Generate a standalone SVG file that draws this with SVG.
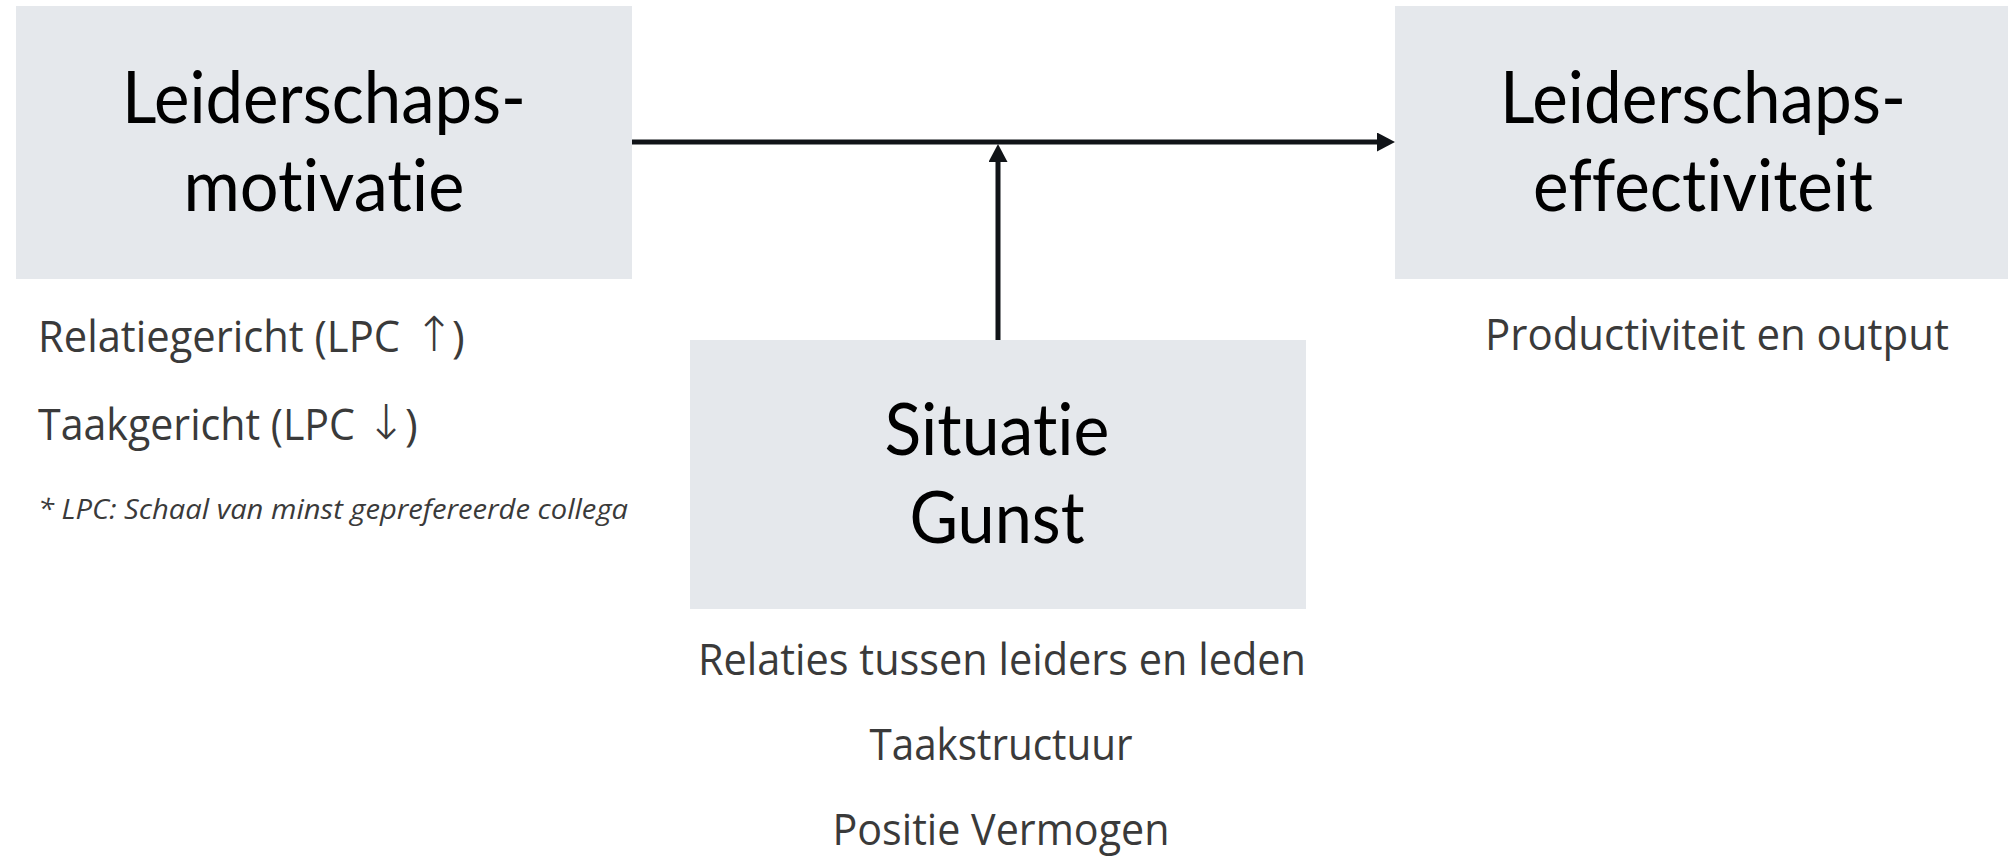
<svg xmlns="http://www.w3.org/2000/svg" width="2008" height="858" viewBox="0 0 2008 858">
  <style>
    text { font-variant-ligatures: none; }
    .box { fill: #e5e8ec; }
    .title { font-family: Lato, "Liberation Sans", sans-serif; font-size: 72px; fill: #000000; text-anchor: middle; }
    .note { font-family: "Open Sans", "DejaVu Sans", sans-serif; font-size: 43px; fill: #3a3a3a; }
    .mid { text-anchor: middle; }
    .arrow { font-family: "DejaVu Sans", sans-serif; font-size: 48px; font-weight: 200; fill: #3a3a3a; text-anchor: middle; }
    .foot { font-family: "Open Sans", "DejaVu Sans", sans-serif; font-style: italic; font-size: 28px; fill: #3a3a3a; }
    .link { stroke: #111418; stroke-width: 5; fill: none; }
  </style>
  <defs>
    <marker id="head" markerUnits="userSpaceOnUse" viewBox="0 0 18 19" refX="0" refY="9.5" markerWidth="18" markerHeight="19" orient="auto">
      <path d="M0,0 L18,9.5 L0,19 Z" fill="#111418"/>
    </marker>
  </defs>

  <rect width="2008" height="858" fill="#ffffff"/>

  <!-- connectors -->
  <g id="connectors">
    <line class="link" x1="632" y1="142" x2="1377" y2="142" marker-end="url(#head)"/>
    <line class="link" x1="998" y1="340" x2="998" y2="162" marker-end="url(#head)"/>
  </g>

  <!-- motivation node -->
  <g id="node-motivatie">
    <rect class="box" x="16" y="6" width="616" height="273"/>
    <text class="title" x="324" y="123" textLength="404" lengthAdjust="spacingAndGlyphs">Leiderschaps-</text>
    <text class="title" x="324" y="211" textLength="281" lengthAdjust="spacingAndGlyphs">motivatie</text>
    <!-- LPC styles: label, direction glyph, closing bracket -->
    <text class="note" x="38" y="352" textLength="362" lengthAdjust="spacingAndGlyphs">Relatiegericht (LPC</text>
    <text class="arrow" x="434" y="351">↑</text>
    <text class="note" x="452" y="352">)</text>
    <text class="note" x="38" y="440" textLength="317" lengthAdjust="spacingAndGlyphs">Taakgericht (LPC</text>
    <text class="arrow" x="386" y="439">↓</text>
    <text class="note" x="405" y="440">)</text>
    <text class="foot" x="38" y="519" textLength="590" lengthAdjust="spacingAndGlyphs">* LPC: Schaal van minst geprefereerde collega</text>
  </g>

  <!-- effectiveness node -->
  <g id="node-effectiviteit">
    <rect class="box" x="1395" y="6" width="613" height="273"/>
    <text class="title" x="1703" y="123" textLength="406" lengthAdjust="spacingAndGlyphs">Leiderschaps-</text>
    <text class="title" x="1703" y="211" textLength="340" lengthAdjust="spacingAndGlyphs">effectiviteit</text>
    <text class="note mid" x="1717" y="350" textLength="464" lengthAdjust="spacingAndGlyphs">Productiviteit en output</text>
  </g>

  <!-- situation node -->
  <g id="node-situatie">
    <rect class="box" x="690" y="340" width="616" height="269"/>
    <text class="title" x="997" y="455" textLength="225" lengthAdjust="spacingAndGlyphs">Situatie</text>
    <text class="title" x="997" y="543" textLength="175" lengthAdjust="spacingAndGlyphs">Gunst</text>
    <text class="note mid" x="1002" y="675" textLength="608" lengthAdjust="spacingAndGlyphs">Relaties tussen leiders en leden</text>
    <text class="note mid" x="1001" y="760" textLength="263" lengthAdjust="spacingAndGlyphs">Taakstructuur</text>
    <text class="note mid" x="1001" y="845" textLength="337" lengthAdjust="spacingAndGlyphs">Positie Vermogen</text>
  </g>
</svg>
